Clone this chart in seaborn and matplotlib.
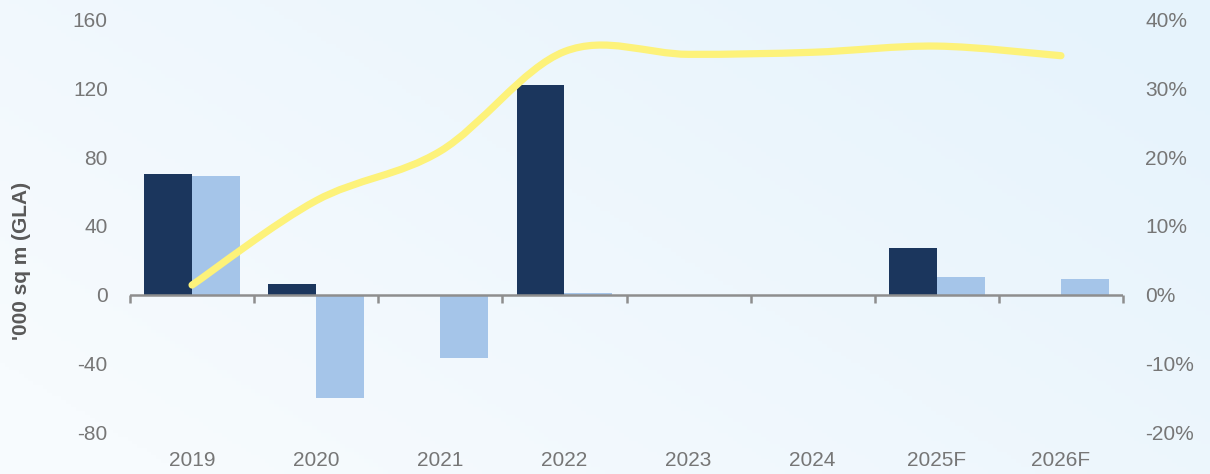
import numpy as np
import pandas as pd
import matplotlib
matplotlib.use("Agg")
import matplotlib.pyplot as plt
import seaborn as sns
from matplotlib.path import Path
from matplotlib.patches import PathPatch
from matplotlib.colors import LinearSegmentedColormap

# ---- data -------------------------------------------------------------
years = ["2019", "2020", "2021", "2022", "2023", "2024", "2025F", "2026F"]
supply = [70, 6, 0, 122, 0, 0, 27, 0]          # dark bars, '000 sq m
net_absorption = [69, -60, -37, 1, 0, 0, 10, 9]  # light bars, '000 sq m
vacancy_pct = [1.4, 13.7, 20.9, 35.4, 35.0, 35.3, 36.2, 34.8]  # line, right axis

left_ticks = [-80, -40, 0, 40, 80, 120, 160]
right_ticks = [-20, -10, 0, 10, 20, 30, 40]

# ---- style ------------------------------------------------------------
DARK = "#1B365D"
LIGHT = "#A5C5E9"
LINE = "#FDF27A"
TICK_GREY = "#767676"
AXIS_GREY = "#8E8E8E"

sns.set_theme(style="white")
plt.rcParams["font.family"] = ["Liberation Sans", "DejaVu Sans"]

W, H = 1210, 474
fig = plt.figure(figsize=(W / 100, H / 100), dpi=100)

# soft background gradient
bg = fig.add_axes([0, 0, 1, 1], zorder=-10)
gx, gy = np.meshgrid(np.linspace(0, 1, 256), np.linspace(0, 1, 128))
grad = np.clip(0.7 * gx + 0.45 * gy - 0.1, 0, 1)
cmap = LinearSegmentedColormap.from_list("bg", ["#F7FBFE", "#E6F3FC"])
bg.imshow(grad, cmap=cmap, origin="lower", aspect="auto", extent=[0, 1, 0, 1])
bg.axis("off")

# main axes
left, right, top, bottom = 130, 1123, 20, 432
ax = fig.add_axes([left / W, 1 - bottom / H, (right - left) / W, (bottom - top) / H])
ax.patch.set_alpha(0)

df = pd.DataFrame({
    "year": years * 2,
    "series": ["Supply"] * len(years) + ["Net absorption"] * len(years),
    "value": supply + net_absorption,
})
sns.barplot(data=df, x="year", y="value", hue="series", order=years,
            hue_order=["Supply", "Net absorption"], palette=[DARK, LIGHT],
            saturation=1, width=0.77, gap=0, errorbar=None, linewidth=0,
            legend=False, ax=ax)

ax.set_xlim(-0.5, len(years) - 0.5)
ax.set_ylim(left_ticks[0], left_ticks[-1])
ax.set_yticks(left_ticks)
ax.set_yticklabels([str(t) for t in left_ticks])
ax.set_xlabel("")
ax.set_ylabel("")
for s in ax.spines.values():
    s.set_visible(False)
ax.tick_params(axis="x", length=0, pad=14, labelsize=15, labelcolor=TICK_GREY)
ax.tick_params(axis="y", length=0, pad=16, labelsize=15, labelcolor=TICK_GREY)

# zero line with category boundary ticks
ax.axhline(0, color=AXIS_GREY, lw=1.8, zorder=3)
bounds = np.arange(len(years) + 1) - 0.5
ax.plot(bounds, np.zeros_like(bounds), ls="none", marker=3, markersize=6,
        mew=1.8, color=AXIS_GREY, zorder=3, clip_on=False)

# right axis with smoothed line
ax2 = ax.twinx()
ax2.set_ylim(right_ticks[0], right_ticks[-1])
ax2.set_yticks(right_ticks)
ax2.set_yticklabels([f"{t}%" for t in right_ticks])
for s in ax2.spines.values():
    s.set_visible(False)
ax2.tick_params(axis="y", length=0, pad=16, labelsize=15, labelcolor=TICK_GREY)
ax2.grid(False)

pts = np.column_stack([np.arange(len(vacancy_pct)), vacancy_pct]).astype(float)
ext = np.vstack([pts[0], pts, pts[-1]])
verts = [pts[0]]
codes = [Path.MOVETO]
for i in range(len(pts) - 1):
    p0, p1, p2, p3 = ext[i], ext[i + 1], ext[i + 2], ext[i + 3]
    c1 = p1 + (p2 - p0) / 6
    c2 = p2 - (p3 - p1) / 6
    verts += [c1, c2, p2]
    codes += [Path.CURVE4] * 3
ax2.add_patch(PathPatch(Path(verts, codes), fill=False, edgecolor=LINE,
                        lw=5.2, capstyle="round", joinstyle="round", zorder=5))

fig.text(22 / W, 1 - 261 / H, "'000 sq m (GLA)", rotation=90, ha="center",
         va="center", fontsize=15, fontweight="bold", color="#595959")

fig.savefig("out.png", dpi=100)
